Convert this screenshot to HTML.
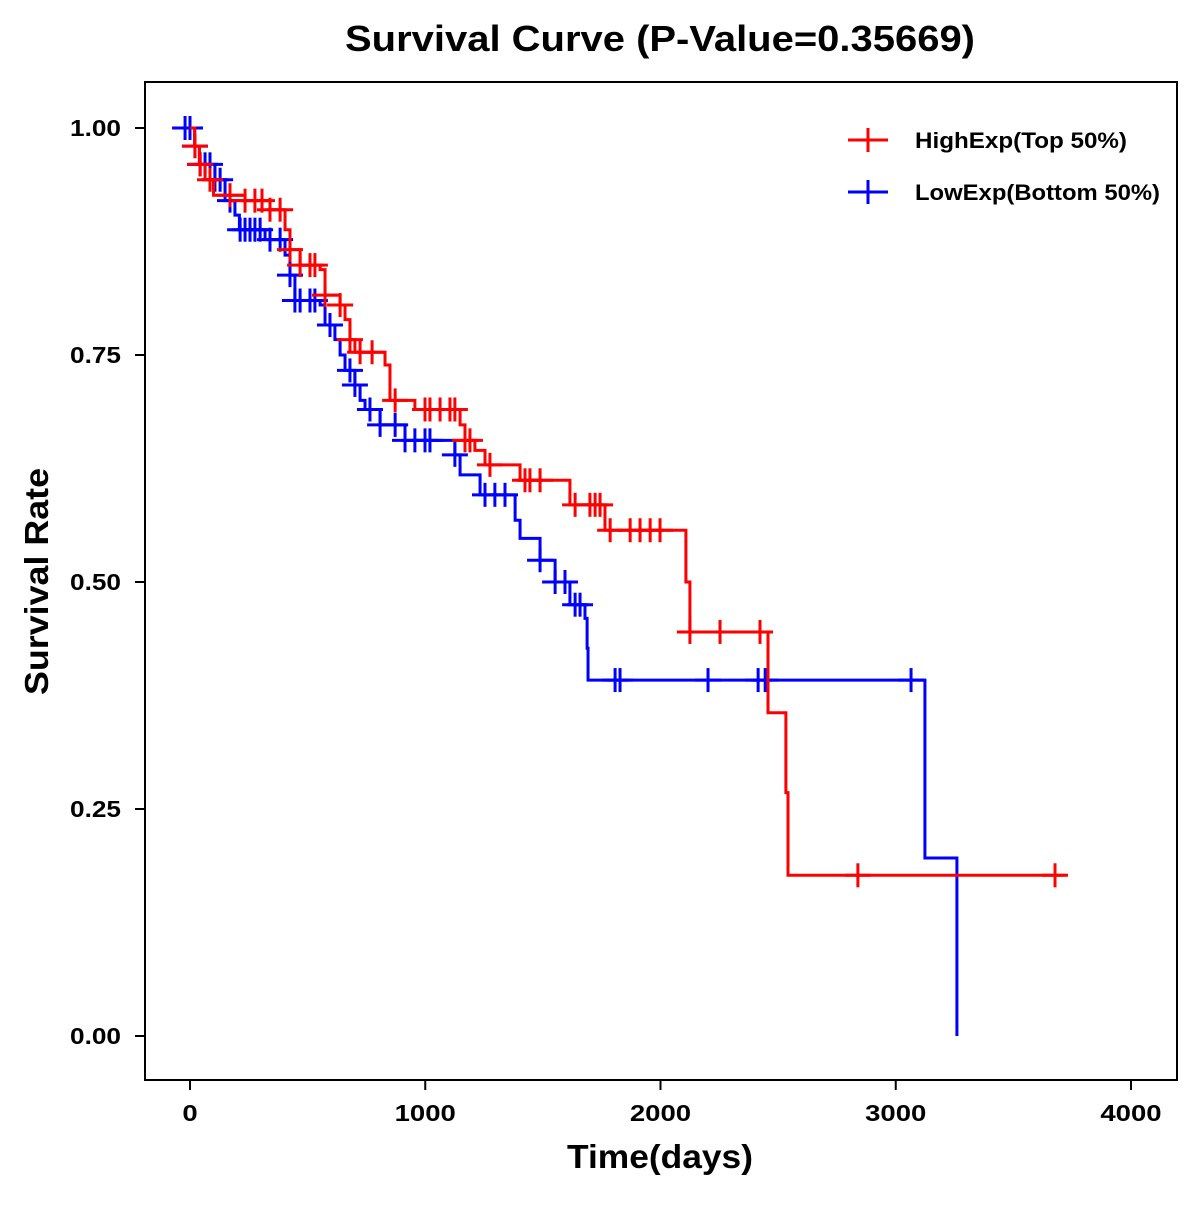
<!DOCTYPE html>
<html><head><meta charset="utf-8"><style>
body{margin:0;background:#fff}
svg text{font-family:"Liberation Sans",Arial,sans-serif;font-weight:bold;fill:#000}
</style></head><body>
<svg id="chart" width="1200" height="1200" viewBox="0 0 1200 1200" xmlns="http://www.w3.org/2000/svg">
<rect width="1200" height="1200" fill="#fff"/>
<text x="345" y="51" font-size="36" textLength="630" lengthAdjust="spacingAndGlyphs">Survival Curve (P-Value=0.35669)</text>
<rect x="145" y="82" width="1032" height="998" fill="none" stroke="#000" stroke-width="2"/>
<g id="axes"></g>
<g id="series"></g>
<text x="567" y="1168" font-size="33" textLength="186" lengthAdjust="spacingAndGlyphs">Time(days)</text>
<text transform="translate(48,695) rotate(-90)" font-size="33" textLength="227" lengthAdjust="spacingAndGlyphs">Survival Rate</text>
<g>
<g>
<line x1="848" y1="140" x2="888" y2="140" stroke="#f00" stroke-width="3"/><line x1="868" y1="128" x2="868" y2="152" stroke="#f00" stroke-width="3"/>
<text x="915" y="148" font-size="22" textLength="212" lengthAdjust="spacingAndGlyphs">HighExp(Top 50%)</text></g>
<g>
<line x1="848" y1="192" x2="888" y2="192" stroke="#00f" stroke-width="3"/><line x1="868" y1="180" x2="868" y2="204" stroke="#00f" stroke-width="3"/>
<text x="915" y="200" font-size="22" textLength="245" lengthAdjust="spacingAndGlyphs">LowExp(Bottom 50%)</text></g>
</g>
</svg>
<script>
const xTicks=[0,1000,2000,3000,4000];
const yTicks=[0,0.25,0.5,0.75,1.0];
const yTickLabels=["0.00","0.25","0.50","0.75","1.00"];
const highTimes=[0,20,40,64,100,234,340,404,425,468,553,574,638,659,680,701,829,850,956,1148,1169,1211,1254,1403,1615,1764,2108,2125,2457,2533,2542];
const highSurv=[1.0,0.98,0.96,0.943,0.926,0.92,0.91,0.888,0.866,0.849,0.844,0.816,0.805,0.789,0.767,0.753,0.739,0.70,0.69,0.673,0.656,0.645,0.629,0.612,0.585,0.557,0.5,0.445,0.356,0.268,0.177];
const highEnd=3719;
const highCensor=[21,43,85,170,234,276,306,340,383,425,468,510,531,574,638,680,723,774,872,999,1020,1063,1105,1126,1169,1190,1275,1424,1445,1488,1637,1700,1722,1743,1786,1871,1913,1956,1998,2125,2253,2423,2839,3677];
const lowTimes=[0,20,40,106,149,191,210,319,404,425,446,553,574,616,638,659,701,723,744,808,914,1126,1148,1233,1382,1403,1488,1552,1615,1679,1688,1692,3124,3260];
const lowSurv=[1.0,0.98,0.96,0.943,0.92,0.904,0.888,0.877,0.86,0.838,0.81,0.805,0.783,0.767,0.75,0.733,0.717,0.70,0.69,0.673,0.656,0.64,0.618,0.596,0.568,0.548,0.524,0.5,0.475,0.46,0.427,0.392,0.196,0];
const lowEnd=3260;
const lowCensor=[-21,0,21,43,64,85,106,128,170,213,234,255,276,298,340,383,425,446,468,510,531,595,680,701,765,808,872,914,956,999,1020,1126,1254,1296,1339,1488,1552,1594,1637,1658,1807,1828,2202,2415,2445,3065];
const X=t=>190+t*0.23525, Y=s=>1036-s*908;
const NS="http://www.w3.org/2000/svg";
const ax=document.getElementById('axes'), se=document.getElementById('series');
function mk(tag,a,p){const e=document.createElementNS(NS,tag);for(const k in a)e.setAttribute(k,a[k]);p.appendChild(e);return e;}
xTicks.forEach(v=>{
 const l=mk('line',{x1:X(v),x2:X(v),y1:1080,y2:1090,stroke:'#000','stroke-width':2},ax);
 
 
 const s=String(v);
 const t=mk('text',{x:X(v),y:1121,'font-size':23,'text-anchor':'middle',textLength:s.length*15.3,lengthAdjust:'spacingAndGlyphs'},ax);t.textContent=s;
 
 
});
yTicks.forEach((v,i)=>{
 const l=mk('line',{x1:135,x2:145,y1:Y(v),y2:Y(v),stroke:'#000','stroke-width':2},ax);
 
 
 const t=mk('text',{x:121,y:Y(v)+8,'font-size':23,'text-anchor':'end',textLength:51,lengthAdjust:'spacingAndGlyphs'},ax);t.textContent=yTickLabels[i];
 
 
});
function survAt(times,surv,t){let s=surv[0];for(let i=0;i<times.length;i++)if(times[i]<=t)s=surv[i];return s;}
function drawSeries(times,surv,end,cens,color,name){
 let d='M'+X(times[0])+' '+Y(surv[0]);
 for(let i=1;i<times.length;i++){d+=' H'+X(times[i])+' V'+Y(surv[i]);}
 d+=' H'+X(end);
 const p=mk('path',{d:d,fill:'none',stroke:color,'stroke-width':3},se);
 
 
 cens.forEach(t=>{
  const s=survAt(times,surv,t);
  const g=mk('g',{},se);
  
  
  mk('line',{x1:X(t)-13,x2:X(t)+13,y1:Y(s),y2:Y(s),stroke:color,'stroke-width':3},g);
  mk('line',{x1:X(t),x2:X(t),y1:Y(s)-12,y2:Y(s)+12,stroke:color,'stroke-width':3},g);
 });
}
drawSeries(lowTimes,lowSurv,lowEnd,lowCensor,'#00f','low-exp');
drawSeries(highTimes,highSurv,highEnd,highCensor,'#f00','high-exp');
</script>
</body></html>
